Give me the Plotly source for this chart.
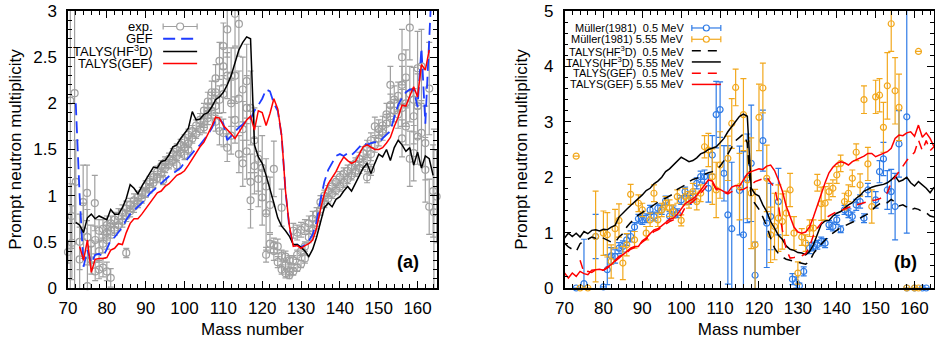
import plotly.graph_objects as go

# ---------------- Panel (a) data ----------------
A_exp = [70.0, 70.6, 70.9, 71.0, 71.7, 72.0, 73.0, 73.0, 73.9, 74.0, 74.9, 75.0, 75.0, 75.9, 76.0,
         76.9, 77.0, 77.0, 78.0, 78.0, 78.0, 79.0, 79.0, 79.0, 80.0, 80.0, 80.0, 80.0, 81.0, 81.0,
         81.0, 82.0, 82.0, 83.0, 83.0, 84.0, 84.0, 85.0, 85.0, 85.0, 86.0, 86.0, 87.0, 87.0, 88.0,
         88.0, 89.0, 89.0, 90.0, 90.0, 91.0, 91.0, 92.0, 92.0, 93.0, 93.0, 94.0, 94.0, 94.5, 95.0,
         95.0, 96.0, 96.0, 97.0, 97.0, 98.0, 98.0, 98.0, 99.0, 99.0, 100.0, 100.0, 100.0, 101.0, 101.0,
         101.0, 102.0, 102.0, 103.0, 103.0, 104.0, 104.0, 105.0, 105.0, 105.0, 106.0, 106.0, 106.0, 107.0, 107.0,
         107.0, 108.0, 108.0, 108.0, 108.0, 109.0, 109.0, 109.0, 110.0, 110.0, 110.0, 110.0, 111.0, 111.0, 111.0,
         112.0, 112.0, 112.0, 113.0, 113.0, 113.0, 114.0, 114.0, 114.0, 115.0, 115.0, 115.0, 116.0, 116.0, 116.0,
         117.0, 117.0, 117.0, 118.0, 118.0, 119.0, 119.0, 120.0, 120.0, 121.0, 121.0, 121.0, 122.0, 122.0, 123.0,
         123.0, 123.0, 124.0, 124.0, 125.0, 125.0, 125.0, 126.0, 126.0, 126.0, 127.0, 127.0, 127.0, 128.0, 128.0,
         128.0, 129.0, 129.0, 129.0, 130.0, 130.0, 130.0, 131.0, 131.0, 131.0, 132.0, 132.0, 133.0, 133.0, 134.0,
         134.0, 135.0, 135.0, 136.0, 136.0, 137.0, 137.0, 138.0, 138.0, 139.0, 139.0, 140.0, 140.0, 141.0, 141.0,
         142.0, 142.0, 143.0, 143.0, 144.0, 144.0, 145.0, 145.0, 146.0, 146.0, 147.0, 147.0, 147.0, 148.0, 148.0,
         148.0, 149.0, 149.0, 150.0, 150.0, 151.0, 151.0, 152.0, 152.0, 153.0, 153.0, 153.0, 154.0, 154.0, 155.0,
         155.0, 156.0, 156.0, 156.0, 156.0, 157.0, 157.0, 157.0, 158.0, 158.0, 158.0, 159.0, 159.0, 159.0, 160.0,
         160.0, 160.0, 161.0, 161.0, 162.0, 162.0, 163.0, 163.0, 164.0, 164.2, 164.9]
nu_exp = [0.39, 2.03, 0.78, 0.49, 2.11, 1.15, 0.31, 0.50, 0.93, 0.62, 1.03, 0.55, 0.02, 0.48, 0.30,
          0.92, 0.52, 0.18, 0.62, 0.40, 0.20, 0.64, 0.48, 0.22, 0.68, 0.60, 0.52, 0.18, 0.70, 0.62,
          0.11, 0.74, 0.63, 0.78, 0.68, 0.82, 0.72, 0.86, 0.78, 0.38, 0.90, 0.83, 0.95, 0.88, 0.98,
          0.92, 1.03, 0.97, 1.10, 1.03, 1.15, 1.08, 1.20, 1.14, 1.26, 1.19, 1.32, 1.25, 1.17, 1.36,
          1.30, 1.40, 1.34, 1.45, 1.38, 1.50, 1.43, 1.33, 1.55, 1.47, 1.60, 1.52, 1.44, 1.66, 1.57,
          1.50, 1.70, 1.62, 1.76, 1.67, 1.82, 1.72, 1.92, 1.80, 1.74, 2.02, 1.92, 1.84, 2.12, 2.02,
          1.92, 2.27, 2.12, 1.97, 1.80, 2.46, 2.04, 1.70, 2.62, 2.40, 2.10, 1.68, 2.80, 2.30, 1.52,
          2.30, 2.00, 1.65, 2.97, 2.30, 1.82, 2.86, 2.05, 1.45, 2.15, 1.72, 1.35, 2.24, 1.95, 1.48,
          1.95, 1.15, 0.95, 1.60, 1.32, 1.40, 1.18, 1.30, 0.98, 0.81, 1.10, 0.36, 0.48, 0.90, 0.46,
          1.29, 0.40, 0.45, 0.28, 0.35, 0.20, 0.87, 0.34, 0.25, 0.16, 0.30, 0.18, 0.14, 0.62, 0.30,
          0.18, 0.60, 0.36, 0.22, 0.63, 0.40, 0.26, 0.66, 0.45, 0.32, 0.70, 0.55, 0.75, 0.62, 0.80,
          0.70, 0.93, 0.85, 1.00, 0.92, 1.05, 0.97, 1.10, 1.02, 1.15, 1.06, 1.20, 1.10, 1.24, 1.14,
          1.27, 1.18, 1.31, 1.22, 1.35, 1.26, 1.40, 1.30, 1.46, 1.34, 1.52, 1.38, 1.20, 1.60, 1.45,
          1.28, 1.75, 1.55, 1.72, 1.62, 1.76, 1.68, 1.88, 1.78, 2.20, 1.98, 1.86, 2.04, 1.92, 2.08,
          1.88, 2.50, 2.20, 1.95, 1.62, 2.28, 2.00, 1.75, 2.82, 2.10, 1.40, 2.04, 1.86, 1.46, 2.38,
          1.97, 1.64, 2.40, 1.68, 1.57, 1.28, 2.16, 0.88, 1.05, 0.82, 0.99]
err_exp = [0.12, 3.00, 0.35, 0.40, 3.00, 0.45, 0.35, 0.30, 0.40, 0.30, 0.30, 0.30, 0.30, 0.20, 0.15,
           0.30, 0.15, 0.10, 0.12, 0.12, 0.10, 0.10, 0.10, 0.10, 0.10, 0.08, 0.10, 0.10, 0.08, 0.08,
           0.10, 0.08, 0.06, 0.08, 0.06, 0.08, 0.06, 0.08, 0.06, 0.05, 0.07, 0.06, 0.07, 0.06, 0.07,
           0.05, 0.06, 0.05, 0.06, 0.05, 0.06, 0.05, 0.06, 0.05, 0.06, 0.05, 0.06, 0.05, 0.05, 0.06,
           0.05, 0.06, 0.05, 0.06, 0.05, 0.06, 0.05, 0.05, 0.06, 0.05, 0.06, 0.05, 0.05, 0.06, 0.05,
           0.05, 0.06, 0.05, 0.06, 0.05, 0.07, 0.06, 0.08, 0.06, 0.06, 0.10, 0.08, 0.07, 0.12, 0.10,
           0.08, 0.15, 0.12, 0.10, 0.10, 0.20, 0.15, 0.15, 0.25, 0.20, 0.20, 0.15, 0.30, 0.25, 0.15,
           0.30, 0.25, 0.20, 0.35, 0.30, 0.25, 0.35, 0.30, 0.20, 0.35, 0.30, 0.25, 0.40, 0.35, 0.30,
           0.40, 0.30, 0.30, 0.35, 0.30, 0.35, 0.30, 0.35, 0.30, 0.40, 0.30, 0.08, 0.10, 0.30, 0.08,
           0.30, 0.10, 0.08, 0.06, 0.06, 0.05, 0.20, 0.06, 0.05, 0.05, 0.05, 0.05, 0.04, 0.08, 0.05,
           0.04, 0.08, 0.05, 0.04, 0.08, 0.05, 0.04, 0.08, 0.05, 0.05, 0.08, 0.06, 0.08, 0.06, 0.07,
           0.06, 0.07, 0.06, 0.06, 0.05, 0.06, 0.05, 0.06, 0.05, 0.06, 0.05, 0.06, 0.05, 0.06, 0.05,
           0.06, 0.05, 0.06, 0.05, 0.06, 0.05, 0.07, 0.06, 0.07, 0.06, 0.08, 0.07, 0.06, 0.08, 0.07,
           0.06, 0.10, 0.08, 0.10, 0.08, 0.10, 0.08, 0.12, 0.10, 0.20, 0.12, 0.10, 0.15, 0.12, 0.15,
           0.15, 0.30, 0.20, 0.20, 0.20, 0.30, 0.25, 0.20, 0.35, 0.30, 0.30, 0.35, 0.30, 0.30, 0.40,
           0.35, 0.30, 0.40, 0.35, 0.40, 0.35, 0.50, 0.30, 0.50, 0.90, 0.50]

A_gef_a = list(range(72, 165))
nu_gef_a = [2.00, 1.00, 0.23, 0.41, 0.27, 0.36, 0.37, 0.34, 0.42, 0.52,
            0.55, 0.60, 0.66, 0.74, 0.80, 0.84, 0.88, 0.91, 0.96, 1.02,
            1.06, 1.10, 1.14, 1.17, 1.21, 1.24, 1.27, 1.30, 1.36, 1.41,
            1.47, 1.51, 1.55, 1.60, 1.66, 1.73, 1.82, 1.83, 1.78, 1.60,
            1.65, 1.70, 1.74, 1.77, 1.82, 1.83, 1.92, 1.98, 2.05, 2.15,
            2.13, 2.00, 1.92, 1.65, 1.05, 0.65, 0.45, 0.47, 0.44, 0.47,
            0.51, 0.58, 0.72, 0.95, 1.15, 1.28, 1.35, 1.43, 1.45, 1.43,
            1.46, 1.44, 1.48, 1.52, 1.57, 1.55, 1.57, 1.58, 1.57, 1.62,
            1.66, 1.70, 1.85, 1.98, 2.06, 2.12, 2.15, 2.15, 1.96, 2.60,
            1.78, 3.05, 3.60]

A_hf3d_a = list(range(72, 165))
nu_hf3d_a = [0.71, 0.68, 0.60, 0.76, 0.80, 0.75, 0.78, 0.76, 0.74, 0.85,
             0.80, 0.80, 0.87, 0.97, 1.12, 1.08, 1.02, 1.10, 1.17, 1.24,
             1.31, 1.30, 1.37, 1.38, 1.44, 1.53, 1.55, 1.62, 1.67, 1.73,
             1.91, 1.82, 1.83, 1.88, 1.90, 1.96, 2.04, 2.07, 2.12, 2.20,
             2.30, 2.43, 2.58, 2.66, 2.72, 2.70, 1.55, 1.42, 1.35, 1.22,
             1.08, 0.92, 0.76, 0.67, 0.62, 0.56, 0.47, 0.47, 0.44, 0.40,
             0.34, 0.42, 0.55, 0.72, 0.87, 0.92, 0.88, 0.96, 0.99, 1.05,
             1.10, 1.05, 1.13, 1.22, 1.30, 1.35, 1.24, 1.35, 1.45, 1.42,
             1.50, 1.38, 1.52, 1.60, 1.55, 1.48, 1.52, 1.33, 1.47, 1.30,
             1.43, 1.40, 1.22]

A_talysgef_a = list(range(73, 164))
nu_talysgef_a = [0.45, 0.30, 0.52, 0.17, 0.31, 0.32, 0.32, 0.33, 0.41, 0.43,
                 0.48, 0.47, 0.60, 0.70, 0.75, 0.75, 0.80, 0.86, 0.92, 0.97,
                 1.03, 1.05, 1.10, 1.13, 1.18, 1.22, 1.24, 1.27, 1.33, 1.40,
                 1.47, 1.53, 1.58, 1.66, 1.75, 1.85, 1.84, 1.76, 1.72, 1.67,
                 1.62, 1.69, 1.76, 1.82, 1.86, 1.71, 1.92, 1.90, 1.76, 1.89,
                 2.05, 1.94, 1.65, 1.05, 0.67, 0.45, 0.46, 0.43, 0.46, 0.48,
                 0.52, 0.65, 0.85, 1.02, 1.13, 1.20, 1.26, 1.35, 1.42, 1.38,
                 1.35, 1.37, 1.45, 1.53, 1.55, 1.52, 1.50, 1.50, 1.52, 1.57,
                 1.63, 1.75, 1.85, 1.98, 1.97, 2.08, 2.18, 2.07, 2.42, 2.36,
                 2.58]

# ---------------- Panel (b) data ----------------
A_mul05 = [73, 75, 78, 80, 81, 82, 83, 84, 85, 86, 87, 88, 89, 90, 91, 92, 93, 94, 95, 96,
           97, 98, 99, 100, 101, 102, 103, 104, 105, 106, 107, 108, 109, 110, 111, 112, 113, 115, 116, 117,
           118, 119, 121, 122, 123, 125, 128.6, 129.6, 130.4, 131.5, 133, 134, 135, 136, 137, 138, 139, 140, 141, 142,
           143, 144, 145, 146, 147, 148, 150, 151, 152, 153, 154, 155, 156, 158, 158, 160, 162, 163]
nu_mul05 = [0.00, 0.08, 0.93, 0.02, 0.33, 0.58, 0.57, 0.72, 0.75, 0.87, 0.93, 1.10, 1.25, 1.23, 1.26, 1.41, 1.29, 1.44, 1.41, 1.58,
            1.30, 1.40, 1.35, 1.59, 1.74, 1.59, 1.65, 1.89, 2.01, 2.01, 1.80, 2.40, 3.13, 3.22, 2.07, 1.32, 1.07, 1.76, 0.96, 1.98,
            2.25, 0.23, 2.66, 1.17, 1.29, 1.56, 0.16, 0.10, 0.04, 0.30, 0.72, 0.75, 0.78, 0.84, 0.81, 1.14, 1.11, 1.23, 1.06, 1.41,
            1.35, 1.29, 1.50, 1.56, 1.26, 1.77, 1.59, 2.10, 2.33, 1.77, 1.74, 1.47, 2.60, 3.09, 0.00, 0.00, 0.00, 0.00]
err_mul05 = [0.00, 0.80, 0.40, 0.00, 0.27, 0.15, 0.12, 0.10, 0.10, 0.10, 0.10, 0.08, 0.08, 0.08, 0.08, 0.08, 0.08, 0.08, 0.08, 0.08,
             0.08, 0.08, 0.08, 0.08, 0.08, 0.08, 0.10, 0.10, 0.10, 0.12, 0.25, 0.35, 0.60, 0.50, 0.50, 1.25, 1.20, 0.80, 1.50, 0.80,
             1.05, 0.60, 0.55, 0.80, 0.60, 0.60, 0.10, 0.10, 0.05, 0.08, 0.10, 0.08, 0.08, 0.08, 0.08, 0.08, 0.08, 0.08, 0.06, 0.08,
             0.08, 0.08, 0.10, 0.12, 0.08, 0.12, 0.15, 0.20, 0.30, 0.35, 0.40, 0.60, 0.60, 2.10, 0.00, 0.00, 0.00, 0.00]

A_mul555 = [73, 74, 76, 78, 80, 81, 82, 83, 84, 85, 86, 87, 88, 89, 90, 91, 92, 93, 94, 95,
            96, 97, 98, 99, 100, 101, 102, 103, 104, 105, 106, 107, 108, 109, 110, 112, 113, 114, 115, 116,
            117, 118, 119, 120, 121, 122, 123, 124, 125, 126, 127, 128, 129, 130, 131, 132, 133, 134, 135, 136,
            137, 138, 139, 140, 141, 142, 143, 144, 145, 146, 147, 148, 149, 150, 151, 152, 153, 154, 155, 156,
            158, 160, 161, 161]
nu_mul555 = [2.38, 0.00, 0.00, 0.93, 0.99, 0.96, 0.48, 1.07, 1.22, 0.45, 0.78, 1.69, 0.87, 1.53, 1.41, 0.99, 1.23, 1.71, 1.23, 1.41,
             1.53, 1.44, 1.38, 1.65, 1.22, 1.65, 1.59, 1.74, 1.56, 1.71, 2.55, 2.49, 2.01, 1.77, 2.22, 2.34, 2.97, 3.62, 1.83, 3.13,
             1.95, 1.71, 0.78, 3.08, 3.61, 1.98, 0.96, 1.11, 1.26, 1.20, 1.35, 1.77, 0.99, 0.27, 0.92, 0.81, 1.08, 1.08, 1.90, 1.52,
             1.53, 1.74, 1.80, 2.04, 2.25, 1.56, 1.71, 1.98, 2.45, 1.86, 3.40, 2.24, 1.47, 3.45, 3.48, 2.90, 3.65, 4.77, 3.56, 3.26,
             0.00, 0.00, 4.27, 0.00]
err_mul555 = [0.00, 0.00, 0.00, 0.82, 0.40, 0.40, 0.30, 0.35, 0.30, 0.30, 0.20, 0.18, 0.15, 0.15, 0.12, 0.12, 0.12, 0.15, 0.12, 0.12,
              0.12, 0.15, 0.12, 0.12, 0.10, 0.15, 0.15, 0.15, 0.15, 0.15, 0.20, 0.30, 0.50, 0.50, 0.60, 0.40, 0.45, 0.33, 0.60, 0.65,
              0.70, 1.00, 1.00, 0.60, 0.45, 0.60, 0.50, 0.60, 0.60, 0.50, 0.40, 0.30, 0.30, 0.20, 0.15, 0.15, 0.15, 0.15, 0.15, 0.30,
              0.30, 0.15, 0.15, 0.15, 0.15, 0.15, 0.15, 0.15, 0.15, 0.20, 0.25, 0.30, 0.30, 0.30, 0.30, 0.45, 0.60, 0.50, 0.60, 0.60,
              0.00, 0.00, 0.00, 0.00]

A_b = list(range(70, 166))
nu_hf3d_555 = [0.90, 0.99, 0.93, 0.99, 0.92, 1.02, 0.98, 1.04, 1.05, 1.03,
               1.06, 1.05, 1.10, 1.13, 1.28, 1.36, 1.42, 1.49, 1.55, 1.62,
               1.68, 1.76, 1.80, 1.88, 1.93, 2.00, 2.10, 2.15, 2.22, 2.30,
               2.36, 2.32, 2.28, 2.30, 2.35, 2.42, 2.45, 2.50, 2.52, 2.55,
               2.62, 2.70, 2.82, 2.92, 3.02, 3.10, 3.14, 3.10, 1.80, 1.70,
               1.66, 1.50, 1.38, 1.20, 1.08, 0.95, 0.88, 0.76, 0.70, 0.68,
               0.64, 0.63, 0.60, 0.66, 0.78, 0.98, 1.15, 1.21, 1.22, 1.30,
               1.35, 1.38, 1.44, 1.50, 1.54, 1.62, 1.67, 1.75, 1.78, 1.82,
               1.84, 1.85, 1.87, 1.90, 1.95, 2.02, 1.92, 1.95, 2.00, 1.90,
               1.84, 1.92, 1.86, 1.80, 1.72, 1.82]
nu_hf3d_05 = [0.81, 0.74, 0.70, 0.66, 0.80, 0.85, 0.88, 0.92, 0.90, 0.92,
              0.90, 0.86, 0.83, 0.82, 0.92, 0.98, 1.10, 1.18, 1.26, 1.32,
              1.36, 1.42, 1.45, 1.50, 1.55, 1.58, 1.62, 1.66, 1.70, 1.78,
              1.82, 1.86, 1.92, 1.96, 1.98, 2.02, 2.05, 2.08, 2.10, 2.14,
              2.20, 2.30, 2.42, 2.55, 2.66, 2.72, 2.78, 2.62, 1.62, 1.52,
              1.42, 1.28, 1.11, 0.90, 0.72, 0.62, 0.56, 0.52, 0.50, 0.48,
              0.47, 0.45, 0.43, 0.48, 0.62, 0.72, 0.80, 0.86, 0.94, 0.99,
              1.04, 1.09, 1.12, 1.15, 1.18, 1.22, 1.26, 1.30, 1.34, 1.40,
              1.47, 1.52, 1.56, 1.54, 1.60, 1.55, 1.48, 1.50, 1.46, 1.40,
              1.44, 1.42, 1.38, 1.36, 1.30, 1.28]
nu_gef_555 = [0.27, 0.18, 0.27, 0.21, 0.30, 0.26, 0.24, 0.32, 0.33, 0.34,
              0.32, 0.38, 0.42, 0.50, 0.57, 0.60, 0.66, 0.72, 0.75, 0.75,
              0.85, 0.90, 0.98, 1.05, 1.07, 1.12, 1.18, 1.24, 1.26, 1.33,
              1.42, 1.52, 1.57, 1.61, 1.67, 1.76, 1.86, 1.95, 1.93, 1.80,
              1.78, 1.74, 1.72, 1.82, 1.85, 1.84, 1.95, 2.06, 2.10, 2.13,
              2.15, 2.14, 2.20, 2.22, 2.12, 1.95, 1.75, 1.48, 1.28, 1.10,
              1.01, 0.99, 1.01, 1.10, 1.28, 1.50, 1.72, 1.90, 2.08, 2.18,
              2.25, 2.28, 2.26, 2.22, 2.28, 2.31, 2.34, 2.38, 2.43, 2.43,
              2.37, 2.40, 2.43, 2.46, 2.52, 2.70, 2.76, 2.75, 2.80, 2.82,
              2.74, 2.94, 2.72, 2.80, 2.70, 2.55]
A_gef05 = list(range(74, 166))
nu_gef_05 = [0.50, 0.28, 0.30, 0.28, 0.33, 0.33,
             0.32, 0.36, 0.42, 0.48, 0.55, 0.60, 0.64, 0.70, 0.73, 0.76,
             0.83, 0.88, 0.95, 1.02, 1.05, 1.10, 1.15, 1.20, 1.23, 1.28,
             1.32, 1.45, 1.50, 1.56, 1.62, 1.70, 1.80, 1.88, 1.90, 1.78,
             1.75, 1.73, 1.70, 1.74, 1.76, 1.77, 1.78, 1.82, 1.86, 1.92,
             1.95, 1.98, 2.00, 1.90, 1.82, 1.50, 1.05, 0.70, 0.54, 0.55,
             0.57, 0.58, 0.62, 0.74, 0.95, 1.08, 1.17, 1.25, 1.30, 1.34,
             1.38, 1.40, 1.43, 1.46, 1.48, 1.50, 1.52, 1.55, 1.57, 1.58,
             1.59, 1.61, 1.65, 1.72, 1.90, 2.00, 2.10, 2.22, 2.30, 2.38,
             2.45, 2.67, 2.48, 2.66, 2.48, 2.55]

x_ticks = [70, 80, 90, 100, 110, 120, 130, 140, 150, 160]

# ---------------- styling ----------------
FONT = "Liberation Sans, Arial, Helvetica, sans-serif"
GREY = "#a0a0a0"
GEF_BLUE = "#1f3cff"
RED = "#ff0000"
MBLUE = "#2f7be6"
ORANGE = "#f2a81d"

W, H = 935, 340
ML, MR, MT, MB = 67.5, 1, 11, 51.7
PW = W - ML - MR
PH = H - MT - MB
dom_a = [0, (436.7 - ML) / PW]
dom_b = [(564.3 - ML) / PW, 1]


def px(x):
    return (x - ML) / PW


def py(y):
    return (H - MB - y) / PH


fig = go.Figure()

# panel (a)
fig.add_trace(go.Scatter(x=A_exp, y=nu_exp, mode="markers", xaxis="x", yaxis="y",
                         marker=dict(symbol="circle-open", size=7, color=GREY, line=dict(width=1.2)),
                         error_y=dict(type="data", array=err_exp, color=GREY, thickness=1.2, width=3),
                         cliponaxis=False, showlegend=False, name="exp."))
fig.add_trace(go.Scatter(x=A_gef_a, y=nu_gef_a, mode="lines", xaxis="x", yaxis="y",
                         line=dict(color=GEF_BLUE, width=1.8, dash="12px,6px"), showlegend=False, name="GEF"))
fig.add_trace(go.Scatter(x=A_hf3d_a, y=nu_hf3d_a, mode="lines", xaxis="x", yaxis="y",
                         line=dict(color="black", width=1.5), showlegend=False, name="TALYS(HF3D)"))
fig.add_trace(go.Scatter(x=A_talysgef_a, y=nu_talysgef_a, mode="lines", xaxis="x", yaxis="y",
                         line=dict(color=RED, width=1.5), showlegend=False, name="TALYS(GEF)"))

# panel (b)
fig.add_trace(go.Scatter(x=A_mul05, y=nu_mul05, mode="markers", xaxis="x2", yaxis="y2",
                         marker=dict(symbol="circle-open", size=6, color=MBLUE, line=dict(width=1.2)),
                         error_y=dict(type="data", array=err_mul05, color=MBLUE, thickness=1.2, width=3),
                         cliponaxis=False, showlegend=False))
fig.add_trace(go.Scatter(x=A_mul555, y=nu_mul555, mode="markers", xaxis="x2", yaxis="y2",
                         marker=dict(symbol="circle-open", size=6, color=ORANGE, line=dict(width=1.2)),
                         error_y=dict(type="data", array=err_mul555, color=ORANGE, thickness=1.2, width=3),
                         cliponaxis=False, showlegend=False))
fig.add_trace(go.Scatter(x=A_b, y=nu_hf3d_05, mode="lines", xaxis="x2", yaxis="y2",
                         line=dict(color="black", width=1.5, dash="9px,7px"), showlegend=False))
fig.add_trace(go.Scatter(x=A_b, y=nu_hf3d_555, mode="lines", xaxis="x2", yaxis="y2",
                         line=dict(color="black", width=1.5), showlegend=False))
fig.add_trace(go.Scatter(x=A_gef05, y=nu_gef_05, mode="lines", xaxis="x2", yaxis="y2",
                         line=dict(color=RED, width=1.5, dash="9px,7px"), showlegend=False))
fig.add_trace(go.Scatter(x=A_b, y=nu_gef_555, mode="lines", xaxis="x2", yaxis="y2",
                         line=dict(color=RED, width=1.5), showlegend=False))

axis_common = dict(showline=True, linecolor="black", linewidth=1.5, mirror="allticks",
                   ticks="inside", ticklen=7, tickwidth=1, tickcolor="black",
                   showgrid=False, zeroline=False,
                   tickfont=dict(family=FONT, size=17, color="black"))

xcommon = dict(axis_common, range=[70, 165], tickvals=x_ticks,
               minor=dict(dtick=2, tick0=70, ticks="inside", ticklen=4, tickcolor="black", tickwidth=1),
               title=dict(text="Mass number", font=dict(family=FONT, size=17, color="black"), standoff=6),
               ticklabelstandoff=4)

fig.update_layout(
    width=W, height=H,
    margin=dict(l=ML, r=MR, t=MT, b=MB, autoexpand=False),
    paper_bgcolor="white", plot_bgcolor="white",
    font=dict(family=FONT, color="black"),
    xaxis=dict(xcommon, domain=dom_a, anchor="y"),
    yaxis=dict(axis_common, range=[0, 3], dtick=0.5, tick0=0, anchor="x",
               minor=dict(dtick=0.1, ticks="inside", ticklen=4, tickcolor="black", tickwidth=1),
               title=dict(text="Prompt neutron multiplicity", font=dict(family=FONT, size=17, color="black"), standoff=7),
               ticklabelstandoff=6),
    xaxis2=dict(xcommon, domain=dom_b, anchor="y2"),
    yaxis2=dict(axis_common, range=[0, 5], dtick=1, tick0=0, anchor="x2",
                minor=dict(dtick=0.2, ticks="inside", ticklen=4, tickcolor="black", tickwidth=1),
                title=dict(text="Prompt neutron multiplicity", font=dict(family=FONT, size=17, color="black"), standoff=12),
                ticklabelstandoff=6),
)

annotations = []
shapes = []

# panel labels
annotations.append(dict(x=px(408), y=py(262), xref="paper", yref="paper", text="<b>(a)</b>",
                        xanchor="center", yanchor="middle",
                        showarrow=False, font=dict(family=FONT, size=18, color="black")))
annotations.append(dict(x=px(905.5), y=py(262), xref="paper", yref="paper", text="<b>(b)</b>",
                        xanchor="center", yanchor="middle",
                        showarrow=False, font=dict(family=FONT, size=18, color="black")))


def leg_text(xr, yc, text, size):
    annotations.append(dict(x=px(xr), y=py(yc), xref="paper", yref="paper", text=text,
                            xanchor="right", yanchor="middle", showarrow=False,
                            font=dict(family=FONT, size=size, color="black")))


def leg_line(x0, x1, yc, color, dash="solid", width=1.5):
    shapes.append(dict(type="line", xref="paper", yref="paper", x0=px(x0), x1=px(x1),
                       y0=py(yc), y1=py(yc), line=dict(color=color, width=width, dash=dash)))


def leg_err(x0, x1, yc, color, r=3):
    leg_line(x0, x1, yc, color, width=1.2)
    for xx in (x0, x1):
        shapes.append(dict(type="line", xref="paper", yref="paper", x0=px(xx), x1=px(xx),
                           y0=py(yc - 3), y1=py(yc + 3), line=dict(color=color, width=1.2)))
    xm = (x0 + x1) / 2
    shapes.append(dict(type="circle", xref="paper", yref="paper", x0=px(xm - r), x1=px(xm + r),
                       y0=py(yc + r), y1=py(yc - r), line=dict(color=color, width=1.2), fillcolor="white"))


# legend (a)
la_x = 154.5
la_rows = [26.5, 38.8, 51.5, 63.5]
leg_text(la_x, la_rows[0], "exp.", 13)
leg_text(la_x, la_rows[1], "GEF", 13)
leg_text(la_x, la_rows[2], "TALYS(HF<sup>3</sup>D)", 13)
leg_text(la_x, la_rows[3], "TALYS(GEF)", 13)
leg_err(162.7, 196.7, la_rows[0], GREY, r=3.5)
leg_line(162.7, 196.7, la_rows[1], GEF_BLUE, dash="12px,6px", width=1.8)
leg_line(162.7, 196.7, la_rows[2], "black")
leg_line(162.7, 196.7, la_rows[3], RED)

# legend (b)
lb_x = 686
lb_rows = [28, 39.3, 50.8, 62, 73.3, 84.5]
sp = "\u00a0"
leg_text(lb_x, lb_rows[0], "Müller(1981)" + sp * 2 + "0.5 MeV", 11)
leg_text(lb_x, lb_rows[1], "Müller(1981)" + sp + "5.55 MeV", 11)
leg_text(lb_x, lb_rows[2], "TALYS(HF<sup>3</sup>D)" + sp * 2 + "0.5 MeV", 11)
leg_text(lb_x, lb_rows[3], "TALYS(HF<sup>3</sup>D)" + sp + "5.55 MeV", 11)
leg_text(lb_x, lb_rows[4], "TALYS(GEF)" + sp * 2 + "0.5 MeV", 11)
leg_text(lb_x, lb_rows[5], "TALYS(GEF)" + sp + "5.55 MeV", 11)
leg_err(691.7, 720.7, lb_rows[0], MBLUE)
leg_err(691.7, 720.7, lb_rows[1], ORANGE)
leg_line(691.7, 720.7, lb_rows[2], "black", dash="9px,7px")
leg_line(691.7, 720.7, lb_rows[3], "black")
leg_line(691.7, 720.7, lb_rows[4], RED, dash="9px,7px")
leg_line(691.7, 720.7, lb_rows[5], RED)

fig.update_layout(annotations=annotations, shapes=shapes)

fig.write_html("out.html",
               config={"displayModeBar": False},
               post_script="document.body.style.margin='0px';document.body.style.padding='0px';"
                           "document.body.style.overflow='hidden';")
